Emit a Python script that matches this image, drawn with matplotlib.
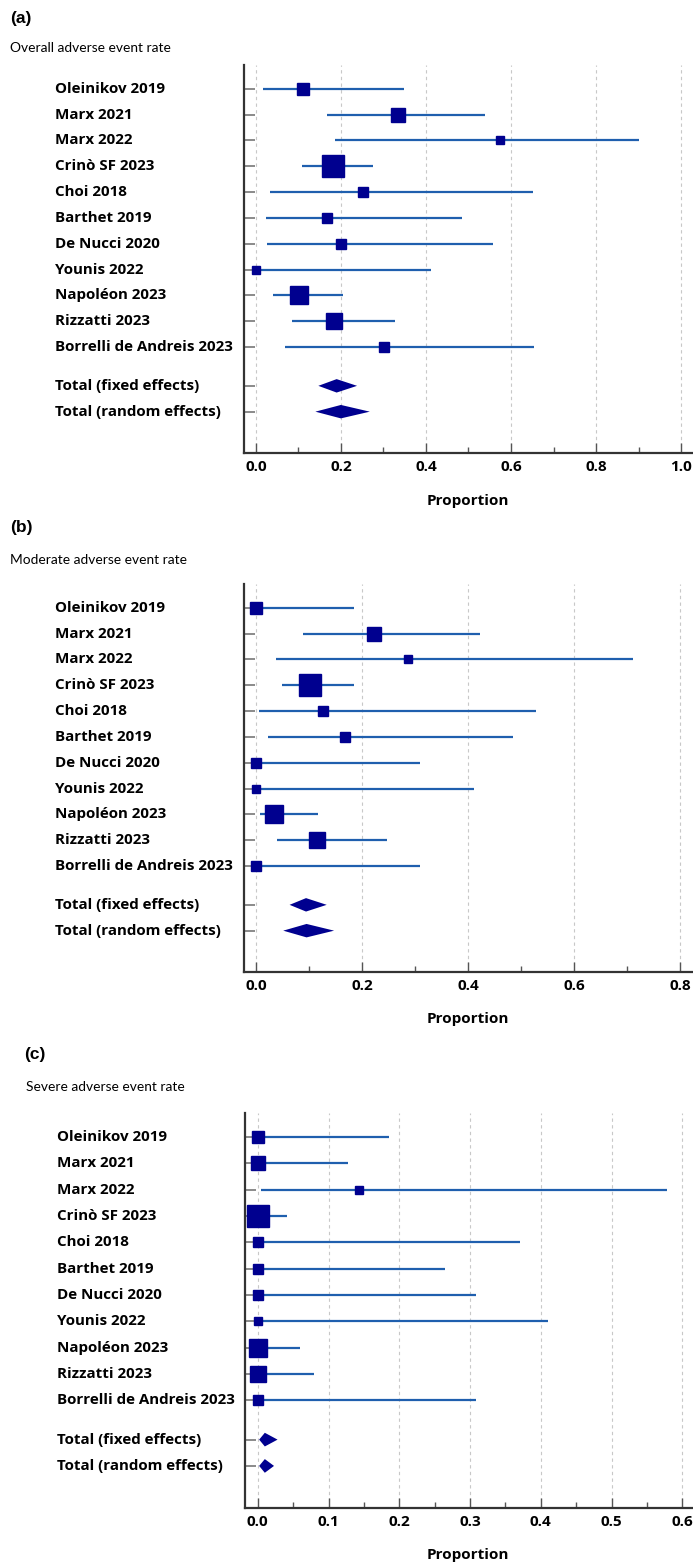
import numpy as np
import matplotlib
matplotlib.use("Agg")
import matplotlib.pyplot as plt
from matplotlib import transforms

plt.rcParams['font.family'] = ['Open Sans', 'DejaVu Sans']

# %% data
studies = ["Oleinikov 2019", "Marx 2021", "Marx 2022", "Crinò SF 2023", "Choi 2018",
           "Barthet 2019", "De Nucci 2020", "Younis 2022", "Napoléon 2023",
           "Rizzatti 2023", "Borrelli de Andreis 2023"]
totals = ["Total (fixed effects)", "Total (random effects)"]
# relative study weights (%) -> square area
weights = [7.2, 10.9, 3.2, 24.3, 5.0, 5.5, 5.0, 3.2, 17.6, 12.9, 5.0]

# (a) overall
a_est = [0.112, 0.334, 0.573, 0.181, 0.252, 0.168, 0.201, 0.0, 0.102, 0.184, 0.301]
a_lo = [0.016, 0.167, 0.187, 0.109, 0.034, 0.023, 0.027, 0.0, 0.040, 0.084, 0.069]
a_hi = [0.348, 0.540, 0.902, 0.276, 0.651, 0.485, 0.558, 0.411, 0.206, 0.328, 0.653]
a_tot = [(0.190, 0.147, 0.238), (0.200, 0.140, 0.268)]

# (b) moderate
b_est = [0.0, 0.223, 0.287, 0.102, 0.126, 0.168, 0.0, 0.0, 0.033, 0.114, 0.0]
b_lo = [0.0, 0.088, 0.038, 0.049, 0.005, 0.023, 0.0, 0.0, 0.007, 0.039, 0.0]
b_hi = [0.185, 0.423, 0.710, 0.184, 0.527, 0.485, 0.309, 0.411, 0.116, 0.246, 0.309]
b_tot = [(0.094, 0.063, 0.133), (0.095, 0.051, 0.147)]

# (c) severe
c_est = [0.0, 0.0, 0.143, 0.0, 0.0, 0.0, 0.0, 0.0, 0.0, 0.0, 0.0]
c_lo = [0.0, 0.0, 0.004, 0.0, 0.0, 0.0, 0.0, 0.0, 0.0, 0.0, 0.0]
c_hi = [0.185, 0.128, 0.578, 0.041, 0.370, 0.264, 0.309, 0.410, 0.060, 0.080, 0.309]
c_tot = [(0.010, 0.002, 0.028), (0.010, 0.002, 0.023)]

panels = [
    ("(a)", "Overall adverse event rate", a_est, a_lo, a_hi, a_tot,
     [0.0, 0.2, 0.4, 0.6, 0.8, 1.0], 0.1, (-0.029, 1.028), "{:.1f}"),
    ("(b)", "Moderate adverse event rate", b_est, b_lo, b_hi, b_tot,
     [0.0, 0.2, 0.4, 0.6, 0.8], 0.1, (-0.023, 0.824), "{:.1f}"),
    ("(c)", "Severe adverse event rate", c_est, c_lo, c_hi, c_tot,
     [0.0, 0.1, 0.2, 0.3, 0.4, 0.5, 0.6], 0.05, (-0.018, 0.615), "{:.1f}"),
]

W, H = 693, 1567
fig = plt.figure(figsize=(W / 100, H / 100), dpi=100)

# pixel boxes: left, top, bottom of each axes; label/title positions
boxes = [(243.5, 65, 453), (244, 584, 972), (245, 1113, 1508)]
heads = [((10, 18), (10, 48)), ((10, 528), (10, 560)), ((24, 1055), (26, 1087))]

navy = "#00008f"
blue = "#1f5fae"

for (lab, title, est, lo, hi, tot, ticks, minor, xlim, fmt), (l, t, b), (p1, p2) in zip(panels, boxes, heads):
    ax = fig.add_axes([l / W, 1 - b / H, (W - l) / W, (b - t) / H])
    ypos = np.arange(1, len(studies) + 1)
    ytot = [12.5, 13.5]

    ax.hlines(ypos, lo, hi, color=blue, lw=1.6, zorder=2)
    for y, e, w in zip(ypos, est, weights):
        side = 4.46 * np.sqrt(w)  # px
        ax.plot(e, y, marker="s", ms=side * 72 / 100, color=navy, mec=navy, zorder=3)
    for y, (m, tl, th) in zip(ytot, tot):
        ax.fill([tl, m, th, m], [y, y - 0.26, y, y + 0.26], color=navy, lw=0, zorder=3)

    ax.set_xlim(*xlim)
    ax.set_ylim(15.1, 0.08)
    ax.set_xticks(ticks)
    ax.set_xticklabels([fmt.format(v) for v in ticks], fontweight="bold", fontsize=11)
    ax.set_xticks(np.arange(0, ticks[-1] + 1e-9, minor), minor=True)
    ax.set_yticks(list(ypos) + ytot)
    ax.set_yticklabels([])
    ax.tick_params(axis="x", which="major", direction="in", length=7, width=1, color="#555555", pad=5)
    ax.tick_params(axis="x", which="minor", direction="in", length=4, width=1, color="#555555")
    ax.tick_params(axis="y", direction="in", length=8, width=1.2, color="#777777")
    ax.xaxis.grid(True, linestyle=(0, (3, 3)), color="#c8c8c8", lw=0.8)
    ax.set_axisbelow(True)
    for s in ["top", "right"]:
        ax.spines[s].set_visible(False)
    for s in ["left", "bottom"]:
        ax.spines[s].set_color("#333333")
        ax.spines[s].set_linewidth(1.6)
    ax.set_xlabel("Proportion", fontweight="bold", fontsize=11, va="center")
    ax.xaxis.set_label_coords((468 - l) / (W - l), -47.5 / (b - t))

    trans = transforms.blended_transform_factory(fig.transFigure, ax.transData)
    lx = (57 if lab == "(c)" else 55) / W
    for y, name in zip(list(ypos) + ytot, studies + totals):
        ax.text(lx, y, name, transform=trans, ha="left", va="center",
                fontweight="bold", fontsize=10.9)

    fig.text(p1[0] / W, 1 - p1[1] / H, lab, family="Liberation Sans", fontweight="bold",
             fontsize=12.5, ha="left", va="center")
    fig.text(p2[0] / W, 1 - p2[1] / H, title, family="Lato", fontsize=9.9,
             ha="left", va="center")

fig.savefig("out.png", dpi=100)
